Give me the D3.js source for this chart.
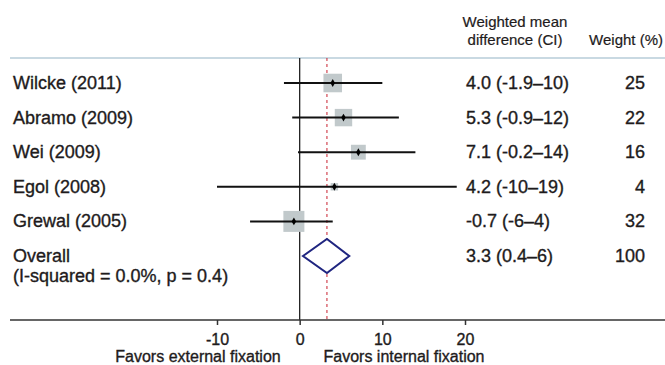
<!DOCTYPE html>
<html>
<head>
<meta charset="utf-8">
<script src="https://cdn.jsdelivr.net/npm/d3@7"></script>
<style>
  body { margin: 0; background: #fff; }
  text { font-family: "Liberation Sans", Arial, sans-serif; fill: #1e1b1c; stroke: #1e1b1c; stroke-width: 0.35px; }
</style>
</head>
<body>
<div id="chart"></div>
<script>
// study data
var studies = ["Wilcke (2011)", "Abramo (2009)", "Wei (2009)", "Egol (2008)", "Grewal (2005)"];
var estimates = [4.0, 5.3, 7.1, 4.2, -0.7];
var lowers = [-1.9, -0.9, -0.2, -10, -6];
var uppers = [10, 12, 14, 19, 4];
var weights = [25, 22, 16, 4, 32];
var ciLabels = ["4.0 (-1.9\u201310)", "5.3 (-0.9\u201312)", "7.1 (-0.2\u201314)", "4.2 (-10\u201319)", "-0.7 (-6\u20134)"];

var overallLabel = ["Overall", "(I-squared = 0.0%, p = 0.4)"];
var overallEst = 3.3;
var overallLo = 0.4;
var overallHi = 6;
var overallCI = "3.3 (0.4\u20136)";
var overallWeight = 100;

var xTicks = [-10, 0, 10, 20];

var width = 665, height = 365;
var svg = d3.select("#chart").append("svg")
  .attr("width", width)
  .attr("height", height);

var x = d3.scaleLinear().domain([-10, 20]).range([217, 465]);
var rows = studies.concat(["Overall"]);
var y = d3.scalePoint().domain(rows).range([83, 256]);
var size = d3.scaleSqrt().domain([0, 32]).range([0, 21]);

var topY = 58, axisY = 320;

// header
svg.append("text").attr("x", 515).attr("y", 27).attr("text-anchor", "middle")
  .style("font-size", "15px").style("stroke-width", "0.2px").text("Weighted mean");
svg.append("text").attr("x", 515).attr("y", 45).attr("text-anchor", "middle")
  .style("font-size", "15px").style("stroke-width", "0.2px").text("difference (CI)");
svg.append("text").attr("x", 663).attr("y", 45).attr("text-anchor", "end")
  .style("font-size", "15px").style("stroke-width", "0.2px").text("Weight (%)");

svg.append("line")
  .attr("x1", 10).attr("x2", width)
  .attr("y1", topY).attr("y2", topY)
  .attr("stroke", "#b7cdd8").attr("stroke-width", 1.5);

// no effect line and overall line
svg.append("line")
  .attr("x1", x(0)).attr("x2", x(0))
  .attr("y1", topY).attr("y2", axisY)
  .attr("stroke", "#222").attr("stroke-width", 1.3);
svg.append("line")
  .attr("x1", x(overallEst)).attr("x2", x(overallEst))
  .attr("y1", topY).attr("y2", axisY)
  .attr("stroke", "#c8202f").attr("stroke-width", 1)
  .attr("stroke-dasharray", "3,3");

var g = svg.selectAll(".study")
  .data(studies)
  .enter().append("g")
  .attr("class", "study");

g.append("rect")
  .attr("x", function(d, i) { return x(estimates[i]) - size(weights[i]) / 2; })
  .attr("y", function(d, i) { return y(d) - size(weights[i]) / 2; })
  .attr("width", function(d, i) { return size(weights[i]); })
  .attr("height", function(d, i) { return size(weights[i]); })
  .attr("fill", "#c1c9cb");

g.append("line")
  .attr("x1", function(d, i) { return x(lowers[i]); })
  .attr("x2", function(d, i) { return x(uppers[i]); })
  .attr("y1", function(d) { return y(d); })
  .attr("y2", function(d) { return y(d); })
  .attr("stroke", "#111").attr("stroke-width", 2);

g.append("path")
  .attr("d", d3.symbol().type(d3.symbolDiamond).size(18))
  .attr("transform", function(d, i) { return "translate(" + x(estimates[i]) + "," + y(d) + ")"; })
  .attr("fill", "#000");

g.append("text")
  .attr("x", 13).attr("y", function(d) { return y(d) + 6; })
  .style("font-size", "18px")
  .text(function(d) { return d; });

g.append("text")
  .attr("x", 466).attr("y", function(d) { return y(d) + 6; })
  .style("font-size", "18px")
  .text(function(d, i) { return ciLabels[i]; });

g.append("text")
  .attr("x", 645).attr("y", function(d) { return y(d) + 6; })
  .attr("text-anchor", "end")
  .style("font-size", "18px")
  .text(function(d, i) { return weights[i]; });

// overall diamond
var oy = y("Overall");
svg.append("path")
  .attr("d", "M" + x(overallLo) + "," + oy + "L" + x(overallEst) + "," + (oy - 17) +
    "L" + x(overallHi) + "," + oy + "L" + x(overallEst) + "," + (oy + 17) + "Z")
  .attr("fill", "#fff")
  .attr("stroke", "#1f2580").attr("stroke-width", 2);

svg.append("text").attr("x", 13).attr("y", oy + 6)
  .style("font-size", "18px").text(overallLabel[0]);
svg.append("text").attr("x", 13).attr("y", oy + 26)
  .style("font-size", "18px").text(overallLabel[1]);
svg.append("text").attr("x", 466).attr("y", oy + 6)
  .style("font-size", "18px").text(overallCI);
svg.append("text").attr("x", 645).attr("y", oy + 6).attr("text-anchor", "end")
  .style("font-size", "18px").text(overallWeight);

// axis
svg.append("line")
  .attr("x1", 10).attr("x2", width)
  .attr("y1", axisY).attr("y2", axisY)
  .attr("stroke", "#333").attr("stroke-width", 1.5);

var axis = svg.append("g")
  .attr("transform", "translate(0," + axisY + ")")
  .call(d3.axisBottom(x).tickValues(xTicks).tickSize(5).tickPadding(9)
    .tickFormat(function(d) { return String(d); }));
axis.select(".domain").remove();
axis.selectAll(".tick line").attr("stroke", "#333").attr("stroke-width", 1.5);
axis.selectAll(".tick text")
  .style("font-family", "Liberation Sans, Arial, sans-serif")
  .style("font-size", "16px")
  .attr("fill", "#1e1b1c");

svg.append("text").attr("x", 198).attr("y", 362).attr("text-anchor", "middle")
  .style("font-size", "16px").text("Favors external fixation");
svg.append("text").attr("x", 404).attr("y", 362).attr("text-anchor", "middle")
  .style("font-size", "16px").text("Favors internal fixation");
</script>
</body>
</html>
